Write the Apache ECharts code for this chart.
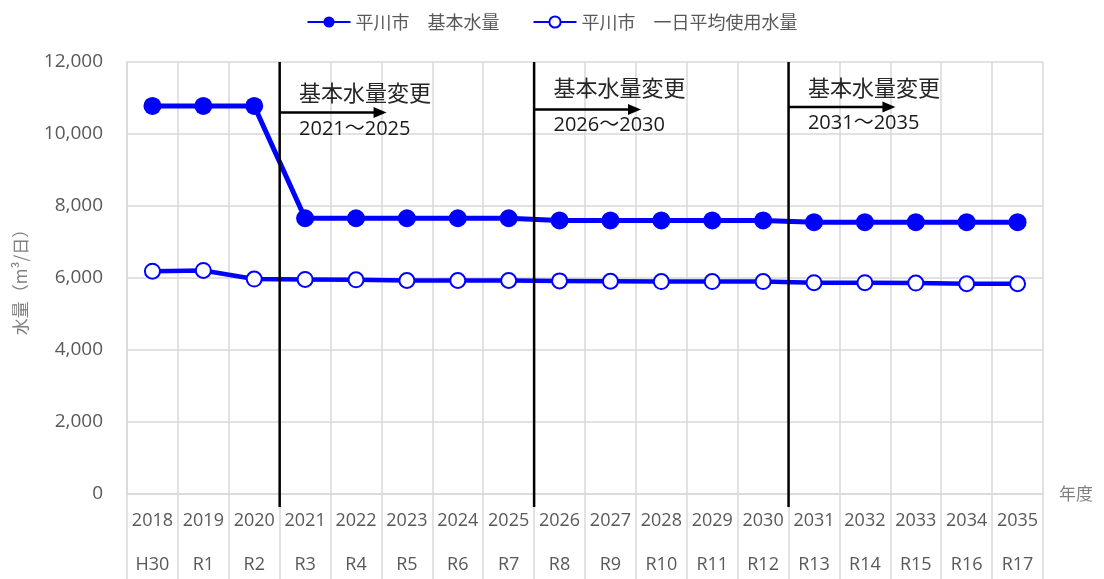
<!DOCTYPE html>
<html>
<head>
<meta charset="utf-8">
<script src="https://cdn.jsdelivr.net/npm/echarts@6/dist/echarts.min.js"></script>
<style>
html,body{margin:0;padding:0;background:#fff;}
#chart{width:1104px;height:579px;}
</style>
</head>
<body>
<div id="chart"></div>
<script>
// ---- data ----
const years = ['2018','2019','2020','2021','2022','2023','2024','2025','2026','2027','2028','2029','2030','2031','2032','2033','2034','2035'];
const eras = ['H30','R1','R2','R3','R4','R5','R6','R7','R8','R9','R10','R11','R12','R13','R14','R15','R16','R17'];
const basicVolume = [10780,10780,10780,7660,7660,7660,7660,7660,7600,7600,7600,7600,7600,7550,7550,7550,7550,7550];
const dailyAverage = [6190,6210,5970,5960,5950,5930,5930,5930,5920,5910,5900,5900,5900,5870,5870,5860,5840,5840];
const seriesNames = ['平川市　基本水量','平川市　一日平均使用水量'];
const yTicks = [0,2000,4000,6000,8000,10000,12000];
// annotation blocks: first category index of each new period
const changeStart = [3, 8, 13];
const changeTitle = ['基本水量変更','基本水量変更','基本水量変更'];
const changeRange = ['2021～2025','2026～2030','2031～2035'];

const chart = echarts.init(document.getElementById('chart'), null, {renderer:'canvas'});
const FONT = '"Open Sans","Noto Sans CJK JP",sans-serif';
const JFONT = '"Noto Sans CJK JP","Open Sans",sans-serif';

const anno = {
  arrowVal: [10600, 10680, 10750],
  titleVal: [11150, 11280, 11280],
  rangeVal: [10130, 10250, 10300]
};

function renderAnno(params, api) {
  const i = params.dataIndex;
  const idx = api.value(0);
  const bw = api.size([1, 0])[0];
  const c0 = api.coord([idx, 0]);
  const x = c0[0] - bw / 2;
  const yTop = api.coord([idx, 12000])[1];
  const yBot = c0[1] + 13;
  const ay = api.coord([idx, anno.arrowVal[i]])[1];
  const ax2 = x + bw * 2.1;
  const ty = api.coord([idx, anno.titleVal[i]])[1];
  const ry = api.coord([idx, anno.rangeVal[i]])[1];
  const tx = x + bw * 0.38;
  return {
    type: 'group',
    children: [
      {type:'line', shape:{x1:x, y1:yTop, x2:x, y2:yBot}, style:{stroke:'#000', lineWidth:2.5}},
      {type:'line', shape:{x1:x, y1:ay, x2:ax2 - 10, y2:ay}, style:{stroke:'#000', lineWidth:2.5}},
      {type:'polygon', shape:{points:[[ax2, ay],[ax2 - 13, ay - 5.5],[ax2 - 13, ay + 5.5]]}, style:{fill:'#000'}},
      {type:'text', x: tx, y: ty, style:{text: changeTitle[i], fill:'#262626', font:'22px ' + JFONT, verticalAlign:'middle', align:'left'}},
      {type:'text', x: tx, y: ry, style:{text: changeRange[i], fill:'#1a1a1a', font:'20px ' + FONT, verticalAlign:'middle', align:'left'}}
    ]
  };
}

const option = {
  backgroundColor: '#fff',
  animation: false,
  legend: {
    top: 8,
    left: 'center',
    data: seriesNames,
    itemWidth: 43,
    itemHeight: 14,
    itemGap: 33,
    textStyle: {color:'#595959', fontSize:18, fontFamily: JFONT}
  },
  grid: {left:127, right:61, top:62, bottom:85, containLabel:false, outerBoundsMode:'none'},
  xAxis: {
    type: 'category',
    data: years,
    boundaryGap: true,
    name: '年度',
    nameLocation: 'end',
    nameGap: 16,
    nameTextStyle: {color:'#7f7f7f', fontSize:17, fontFamily: JFONT, align:'left', verticalAlign:'middle', padding:[97,0,0,0]},
    axisLine: {show:true, lineStyle:{color:'#d9d9d9', width:1.5}},
    axisTick: {show:true, interval:0, length:95, lineStyle:{color:'#d9d9d9', width:1.5}},
    axisLabel: {
      interval: 0, margin: 5, color:'#595959', fontSize:18, fontFamily: FONT, lineHeight: 44,
      formatter: function (v, i) { return v + '\n' + eras[i]; }
    },
    splitLine: {show:true, interval:0, lineStyle:{color:'#d9d9d9', width:1.5}}
  },
  yAxis: {
    type: 'value',
    min: yTicks[0],
    max: yTicks[yTicks.length - 1],
    interval: yTicks[1] - yTicks[0],
    name: '水量（m³/日）',
    nameLocation: 'middle',
    nameRotate: 90,
    nameGap: 98,
    nameTextStyle: {color:'#7f7f7f', fontSize:17, fontFamily: JFONT},
    axisLine: {show:true, lineStyle:{color:'#d9d9d9', width:1.5}},
    axisTick: {show:false},
    axisLabel: {
      margin: 24, color:'#595959', fontSize:19, fontFamily: FONT,
      formatter: function (v) { return v.toLocaleString('en-US'); }
    },
    splitLine: {show:true, lineStyle:{color:'#d9d9d9', width:1.5}}
  },
  series: [
    {
      name: seriesNames[0],
      type: 'line',
      data: basicVolume,
      symbol: 'circle',
      symbolSize: 18,
      lineStyle: {color:'#0000ff', width:5},
      itemStyle: {color:'#0000ff', borderColor:'#0000ff', borderWidth:0},
      z: 3
    },
    {
      name: seriesNames[1],
      type: 'line',
      data: dailyAverage,
      symbol: 'circle',
      symbolSize: 15,
      lineStyle: {color:'#0000ff', width:4.5},
      itemStyle: {color:'#ffffff', borderColor:'#0000ff', borderWidth:2},
      z: 3
    },
    {
      type: 'custom',
      data: changeStart.map(function (s) { return [s]; }),
      renderItem: renderAnno,
      clip: false,
      silent: true,
      z: 5
    }
  ]
};
chart.setOption(option);
</script>
</body>
</html>
